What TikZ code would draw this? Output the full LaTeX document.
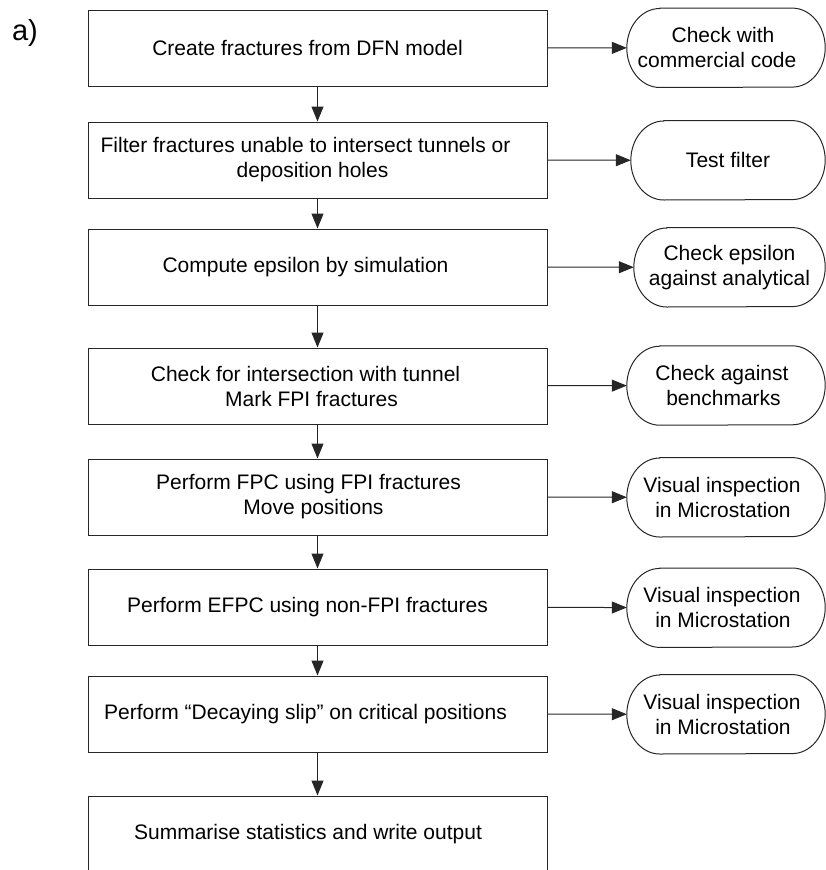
\documentclass[tikz,border=0pt]{standalone}
\usepackage{fontspec}
\setmainfont{Liberation Sans}
\usetikzlibrary{arrows.meta}
\definecolor{linecol}{gray}{0.15}
\begin{document}
\begin{tikzpicture}[x=1pt,y=-1pt,
  stepbox/.style={draw=linecol,line width=1pt,rectangle,minimum width=459pt,minimum height=76pt,inner sep=0pt,align=center,font=\fontsize{21}{25}\selectfont},
  checkbox/.style={rectangle,minimum height=79pt,inner sep=0pt,align=center,font=\fontsize{21}{25}\selectfont},
  termline/.style={draw=linecol,line width=1pt},
  arr/.style={draw=linecol,line width=1pt,-{Triangle[length=15pt,width=12pt]}},
  lbl/.style={font=\fontsize{29}{32}\selectfont,inner sep=0pt}
]
\clip (0,0) rectangle (826,870);
\node[lbl] (lab) at (25,33) {a)};

\node[stepbox] (b1) at (317.5,48) {Create fractures from DFN model\hspace*{20pt}};
\node[stepbox] (b2) at (317.5,160) {Filter fractures unable to intersect tunnels or\hspace*{24pt}\\ deposition holes\hspace*{10pt}};
\node[stepbox] (b3) at (317.5,267) {Compute epsilon by simulation\hspace*{24pt}};
\node[stepbox] (b4) at (317.5,386) {Check for intersection with tunnel\hspace*{24pt}\\ Mark FPI fractures\hspace*{12pt}};
\node[stepbox] (b5) at (317.5,497) {Perform FPC using FPI fractures\hspace*{18pt}\\ Move positions\hspace*{8pt}};
\node[stepbox] (b6) at (317.5,607) {Perform EFPC using non-FPI fractures\hspace*{20pt}};
\node[stepbox] (b7) at (317.5,714) {Perform \textquotedblleft Decaying slip\textquotedblright{} on critical positions\hspace*{24pt}};
\node[stepbox] (b8) at (317.5,834) {Summarise statistics and write output\hspace*{19pt}};

\node[checkbox,minimum width=198pt] (t1) at (726,47.8) {Check with\hspace*{6pt}\\ commercial code\hspace*{18pt}};
\node[checkbox,minimum width=194pt] (t2) at (728,160.3) {Test filter};
\node[checkbox,minimum width=191pt] (t3) at (729.5,267.3) {Check epsilon\\ against analytical};
\node[checkbox,minimum width=198pt] (t4) at (726,385.5) {Check against\hspace*{8pt}\\ benchmarks\hspace*{5pt}};
\node[checkbox,minimum width=198pt] (t5) at (726,497.3) {Visual inspection\hspace*{8pt}\\ in Microstation\hspace*{6pt}};
\node[checkbox,minimum width=198pt] (t6) at (726,607.7) {Visual inspection\hspace*{8pt}\\ in Microstation\hspace*{6pt}};
\node[checkbox,minimum width=198pt] (t7) at (726,714.3) {Visual inspection\hspace*{8pt}\\ in Microstation\hspace*{6pt}};

\foreach \n in {t1,t2,t3,t4,t5,t6,t7}{
  \draw[termline] ([xshift=33pt]\n.north west) -- ([xshift=-33pt]\n.north east)
    arc[start angle=90,end angle=-90,x radius=33pt,y radius=39.5pt]
    -- ([xshift=33pt]\n.south west)
    arc[start angle=270,end angle=90,x radius=33pt,y radius=39.5pt] -- cycle;
}

\draw[arr] (b1) -- (b2);
\draw[arr] (b2) -- (b3);
\draw[arr] (b3) -- (b4);
\draw[arr] (b4) -- (b5);
\draw[arr] (b5) -- (b6);
\draw[arr] (b6) -- (b7);
\draw[arr] (b7) -- (b8);

\draw[arr] (b1) -- (t1);
\draw[arr] (b2) -- (t2);
\draw[arr] (b3) -- (t3);
\draw[arr] (b4) -- (t4);
\draw[arr] (b5) -- (t5);
\draw[arr] (b6) -- (t6);
\draw[arr] (b7) -- (t7);
\end{tikzpicture}
\end{document}
